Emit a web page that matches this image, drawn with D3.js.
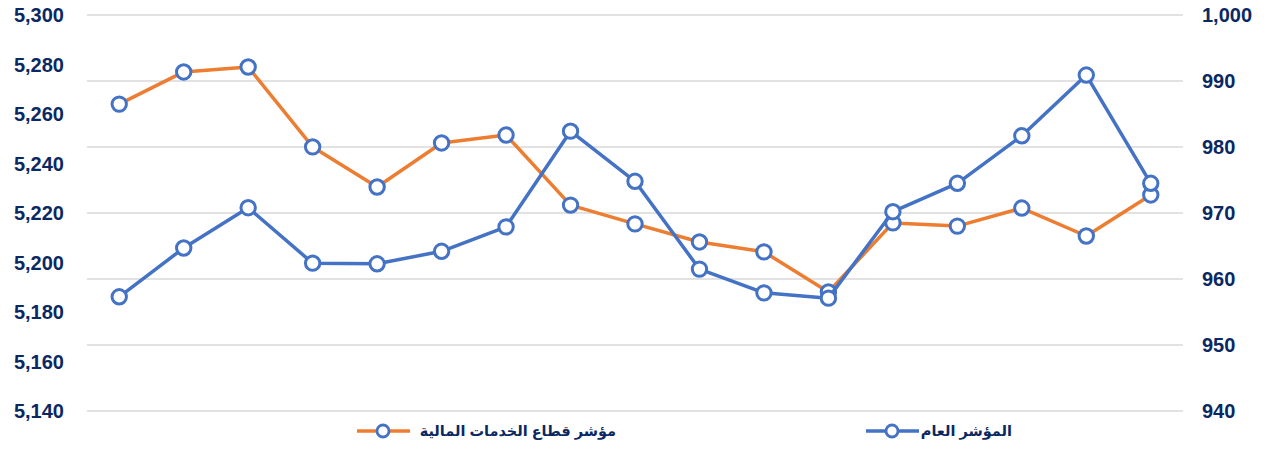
<!DOCTYPE html>
<html>
<head>
<meta charset="utf-8">
<script src="https://cdn.jsdelivr.net/npm/d3@7"></script>
<style>
  body { margin: 0; background: #fff; }
  svg text { font-family: "Liberation Sans", Arial, "DejaVu Sans", sans-serif; font-weight: bold; fill: #0a2862; }
</style>
</head>
<body>
<svg id="chart" width="1270" height="450"></svg>
<script>
// 17 observations, no category labels shown
let days = d3.range(1, 18);

let sectorIndex = [5264, 5277, 5279, 5246.7, 5230.5, 5248.3, 5251.5, 5223.2, 5215.6,
  5208.3, 5204.3, 5188.1, 5216, 5214.7, 5222, 5210.7, 5227.3];
let generalIndex = [957.3, 964.7, 970.8, 962.4, 962.3, 964.2, 967.9, 982.4, 974.8,
  961.5, 957.9, 957.1, 970.2, 974.5, 981.7, 990.9, 974.5];

let leftTicks = [5140, 5160, 5180, 5200, 5220, 5240, 5260, 5280, 5300];
let rightTicks = [940, 950, 960, 970, 980, 990, 1000];

let seriesNames = ['مؤشر قطاع الخدمات المالية', 'المؤشر العام'];

const svg = d3.select('#chart');
const margin = { left: 87, right: 1183, top: 15, bottom: 411 };

let x = d3.scaleBand()
  .domain(days)
  .range([margin.left, margin.right]);

let yLeft = d3.scaleLinear().domain([5140, 5300]).range([margin.bottom, margin.top]);
let yRight = d3.scaleLinear().domain([940, 1000]).range([margin.bottom, margin.top]);

const fmt = d3.format(',');

// gridlines follow the right axis
svg.append('g')
  .selectAll('line')
  .data(rightTicks)
  .enter()
  .append('line')
  .attr('x1', margin.left)
  .attr('x2', margin.right)
  .attr('y1', d => yRight(d))
  .attr('y2', d => yRight(d))
  .attr('stroke', '#d9d9d9')
  .attr('stroke-width', 1.5);

// left axis labels
svg.append('g')
  .selectAll('text')
  .data(leftTicks)
  .enter()
  .append('text')
  .attr('x', 64)
  .attr('y', d => yLeft(d))
  .attr('dy', '0.35em')
  .attr('text-anchor', 'end')
  .style('font-size', '20px')
  .text(d => fmt(d));

// right axis labels
svg.append('g')
  .selectAll('text')
  .data(rightTicks)
  .enter()
  .append('text')
  .attr('x', 1202)
  .attr('y', d => yRight(d))
  .attr('dy', '0.35em')
  .attr('text-anchor', 'start')
  .style('font-size', '20px')
  .text(d => fmt(d));

const cx = d => x(d) + x.bandwidth() / 2;

function drawSeries(values, yScale, color) {
  let g = svg.append('g');
  let line = d3.line()
    .x((d, i) => cx(days[i]))
    .y(d => yScale(d));
  g.append('path')
    .datum(values)
    .attr('d', line)
    .attr('fill', 'none')
    .attr('stroke', color)
    .attr('stroke-width', 3.5)
    .attr('stroke-linejoin', 'round');
  g.selectAll('circle')
    .data(values)
    .enter()
    .append('circle')
    .attr('cx', (d, i) => cx(days[i]))
    .attr('cy', d => yScale(d))
    .attr('r', 7.2)
    .attr('fill', '#fff')
    .attr('stroke', '#4472c4')
    .attr('stroke-width', 3);
}

drawSeries(sectorIndex, yLeft, '#ed7d31');
drawSeries(generalIndex, yRight, '#4472c4');

// legend
let legend = [
  { name: seriesNames[0], color: '#ed7d31', x0: 357, textEnd: 616 },
  { name: seriesNames[1], color: '#4472c4', x0: 866, textEnd: 1012 }
];
let lg = svg.append('g').selectAll('g')
  .data(legend)
  .enter()
  .append('g');
lg.append('line')
  .attr('x1', d => d.x0)
  .attr('x2', d => d.x0 + 53)
  .attr('y1', 431)
  .attr('y2', 431)
  .attr('stroke', d => d.color)
  .attr('stroke-width', 3.5);
lg.append('circle')
  .attr('cx', d => d.x0 + 26)
  .attr('cy', 431)
  .attr('r', 6)
  .attr('fill', '#fff')
  .attr('stroke', '#4472c4')
  .attr('stroke-width', 2.8);
lg.append('text')
  .attr('x', d => d.textEnd)
  .attr('y', 431)
  .attr('dy', '0.35em')
  .attr('text-anchor', 'end')
  .style('font-size', '14.5px')
  .text(d => d.name);
</script>
</body>
</html>
